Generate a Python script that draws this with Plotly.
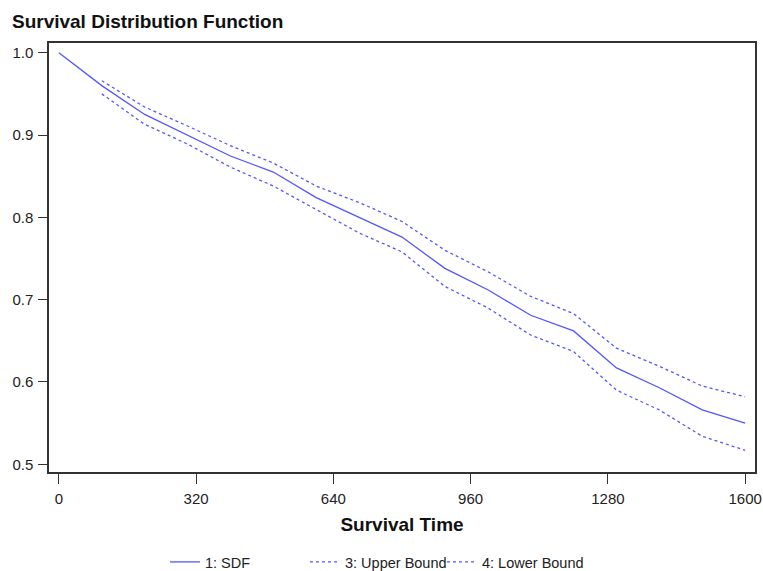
import plotly.graph_objects as go

time = [0, 100, 200, 300, 400, 500, 600, 700, 800, 900, 1000, 1100, 1200, 1300, 1400, 1500, 1600]
sdf = [1.0, 0.960, 0.925, 0.900, 0.8745, 0.855, 0.824, 0.800, 0.776, 0.738, 0.712, 0.681, 0.662, 0.617, 0.593, 0.566, 0.550]
band_time = time[1:]
upper = [0.966, 0.934, 0.911, 0.887, 0.866, 0.838, 0.818, 0.795, 0.760, 0.734, 0.704, 0.683, 0.641, 0.619, 0.595, 0.582]
lower = [0.950, 0.913, 0.889, 0.861, 0.838, 0.809, 0.781, 0.758, 0.716, 0.690, 0.657, 0.637, 0.590, 0.566, 0.534, 0.517]
x_ticks = [0, 320, 640, 960, 1280, 1600]
y_ticks = [0.5, 0.6, 0.7, 0.8, 0.9, 1.0]

blue = "#5555ff"
fig = go.Figure()
fig.add_trace(go.Scatter(x=time, y=sdf, mode="lines", name="1: SDF", legendwidth=95,
                         line=dict(color=blue, width=1.3)))
fig.add_trace(go.Scatter(x=band_time, y=upper, mode="lines", name="3: Upper Bound", legendwidth=92,
                         line=dict(color=blue, width=1.3, dash="dot")))
fig.add_trace(go.Scatter(x=band_time, y=lower, mode="lines", name="4: Lower Bound", legendwidth=118,
                         line=dict(color=blue, width=1.3, dash="dot")))

font_family = "Liberation Sans, Arial, sans-serif"
fig.update_layout(
    width=763, height=571,
    margin=dict(l=49, r=8, t=43, b=99, autoexpand=False),
    paper_bgcolor="white", plot_bgcolor="white",
    font=dict(family=font_family, size=15, color="#222222"),
    title=dict(text="<b>Survival Distribution Function</b>", x=0.0157, xanchor="left",
               y=0.963, yanchor="middle", font=dict(size=19, color="#111111")),
    showlegend=True,
    legend=dict(orientation="h", xref="paper", x=0.1643, xanchor="left",
                yref="container", y=0.0158, yanchor="middle",
                font=dict(size=14.5, color="#222222"), itemwidth=30,
                entrywidthmode="pixels",
                bgcolor="rgba(0,0,0,0)"),
)
fig.update_xaxes(
    range=[-23, 1623], tickvals=x_ticks, ticktext=[str(v) for v in x_ticks],
    showgrid=False, zeroline=False, automargin=False,
    showline=True, mirror=True, linecolor="#333333", linewidth=1.5,
    ticks="outside", ticklen=10, tickwidth=1.2, tickcolor="#333333",
    ticklabelstandoff=2,
    title=dict(text="<b>Survival Time</b>", font=dict(size=19, color="#111111"), standoff=12),
)
fig.update_yaxes(
    range=[0.4906, 1.0118], tickvals=y_ticks, tickformat=".1f",
    showgrid=False, zeroline=False, automargin=False,
    showline=True, mirror=True, linecolor="#333333", linewidth=1.5,
    ticks="outside", ticklen=9, tickwidth=1.2, tickcolor="#333333",
    ticklabelstandoff=2,
)

fig.write_html("out.html", config={"displayModeBar": False},
               post_script="document.body.style.margin='0px';document.body.style.padding='0px';")
